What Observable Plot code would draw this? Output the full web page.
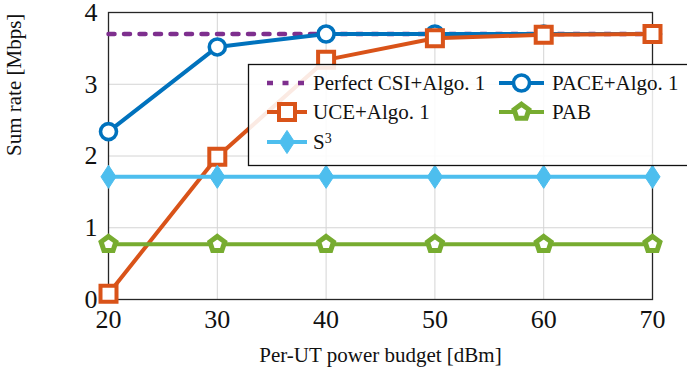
<!DOCTYPE html>
<html>
<head>
<meta charset="utf-8">
<script src="https://cdn.jsdelivr.net/npm/d3@7"></script>
<script src="https://cdn.jsdelivr.net/npm/@observablehq/plot@0.6"></script>
<style>
  html, body { margin: 0; padding: 0; background: #fff; }
  #chart { width: 687px; height: 372px; overflow: hidden; }
  #chart svg, #chart svg text { font-family: "Liberation Serif", "DejaVu Serif", serif !important; }
</style>
</head>
<body>
<div id="chart"></div>
<script>
// Per-UT power budget (dBm) on the x axis
const powerBudget = [20, 30, 40, 50, 60, 70];

// Sum rate (Mbps) for each scheme
const perfectCSI = [3.70, 3.70, 3.70, 3.70, 3.70, 3.70];
const paceAlgo1  = [2.34, 3.52, 3.70, 3.70, 3.70, 3.70];
const uceAlgo1   = [0.08, 1.99, 3.34, 3.64, 3.69, 3.70];
const s3Rate     = [1.71, 1.71, 1.71, 1.71, 1.71, 1.71];
const pabRate    = [0.77, 0.77, 0.77, 0.77, 0.77, 0.77];

const xTicks = [20, 30, 40, 50, 60, 70];
const yTicks = [0, 1, 2, 3, 4];

const xLabel = "Per-UT power budget [dBm]";
const yLabel = "Sum rate [Mbps]";

const serif = "'Liberation Serif', 'DejaVu Serif', serif";

const colors = {
  perfect: "#7E2F8E",
  pace: "#0072BD",
  uce: "#D95319",
  s3: "#4DBEEE",
  pab: "#77AC30"
};

// Marker shapes; r is recovered from the area Plot passes in
const rOf = size => Math.sqrt(size / Math.PI);
const circleSym = {draw(ctx, size) { const r = rOf(size); ctx.moveTo(r, 0); ctx.arc(0, 0, r, 0, 2 * Math.PI); ctx.closePath(); }};
const squareSym = {draw(ctx, size) { const r = rOf(size); ctx.moveTo(-r, -r); ctx.lineTo(r, -r); ctx.lineTo(r, r); ctx.lineTo(-r, r); ctx.closePath(); }};
const diamondSym = {draw(ctx, size) { const r = rOf(size); const w = r * 0.72, h = r * 1.1; ctx.moveTo(0, -h); ctx.lineTo(w, 0); ctx.lineTo(0, h); ctx.lineTo(-w, 0); ctx.closePath(); }};
const pentagonSym = {draw(ctx, size) {
  const r = rOf(size);
  for (let i = 0; i < 5; i++) {
    const a = -Math.PI / 2 + i * 2 * Math.PI / 5;
    const px = r * Math.cos(a), py = r * Math.sin(a);
    if (i === 0) ctx.moveTo(px, py); else ctx.lineTo(px, py);
  }
  ctx.closePath();
}};

const series = [
  {key: "perfect", name: "Perfect CSI+Algo. 1", values: perfectCSI, color: colors.perfect, dash: "6,9.5", symbol: null},
  {key: "pace", name: "PACE+Algo. 1", values: paceAlgo1, color: colors.pace, symbol: circleSym, r: 8, fill: "white", sw: 3.6},
  {key: "uce", name: "UCE+Algo. 1", values: uceAlgo1, color: colors.uce, symbol: squareSym, r: 8, fill: "white", sw: 4},
  {key: "pab", name: "PAB", values: pabRate, color: colors.pab, symbol: pentagonSym, r: 7.8, fill: "white", sw: 5},
  {key: "s3", name: "S\u00B3", values: s3Rate, color: colors.s3, symbol: diamondSym, r: 10.5, fill: colors.s3, sw: 1}
];

const rows = series.flatMap(s => s.values.map((v, i) => ({key: s.key, x: powerBudget[i], y: v})));

const marks = [
  Plot.gridX(xTicks, {stroke: "#d4d4d4", strokeOpacity: 1, strokeWidth: 1}),
  Plot.gridY(yTicks, {stroke: "#d4d4d4", strokeOpacity: 1, strokeWidth: 1}),
  Plot.axisX(xTicks, {tickSize: 0, tickPadding: 10, fontSize: 26, fontFamily: serif, fill: "#111", label: null, tickFormat: d => String(d)}),
  Plot.axisY(yTicks, {tickSize: 0, tickPadding: 11, fontSize: 26, fontFamily: serif, fill: "#111", label: null, tickFormat: d => String(d)}),
  Plot.frame({stroke: "#262626", strokeWidth: 1.3})
];

for (const s of series) {
  const data = rows.filter(d => d.key === s.key);
  marks.push(Plot.line(data, {x: "x", y: "y", stroke: s.color, strokeWidth: s.dash ? 4.5 : 4, strokeDasharray: s.dash}));
  if (s.symbol) {
    marks.push(Plot.dot(data, {x: "x", y: "y", symbol: () => s.symbol, r: s.r, stroke: s.color, fill: s.fill, strokeWidth: s.sw}));
  }
}

marks.push(
  Plot.text([xLabel], {frameAnchor: "bottom", dy: 62, fontSize: 21, fontFamily: serif, fill: "#111"}),
  Plot.text([yLabel], {frameAnchor: "left", dx: -94, rotate: -90, fontSize: 21, fontFamily: serif, fill: "#111"})
);

const chart = Plot.plot({
  width: 687,
  height: 372,
  marginLeft: 108,
  marginRight: 35,
  marginTop: 12,
  marginBottom: 73,
  x: {domain: [20, 70]},
  y: {domain: [0, 4]},
  style: {fontFamily: serif, background: "white", color: "#111", overflow: "visible"},
  marks
});

document.getElementById("chart").appendChild(chart);

// Legend box, two columns, row-major order
const svg = d3.select(chart);
const lg = svg.append("g")
  .attr("font-family", serif)
  .attr("font-size", 21)
  .attr("text-anchor", "start");
lg.append("rect")
  .attr("x", 248.5).attr("y", 64.5).attr("width", 460).attr("height", 101)
  .attr("fill", "white").attr("fill-opacity", 0.88)
  .attr("stroke", "#111").attr("stroke-width", 1.3);

const legendOrder = ["perfect", "pace", "uce", "pab", "s3"];
const colX = [[267, 307, 313], [499, 544, 552]];
const rowY = [83, 112, 142];
legendOrder.forEach((key, i) => {
  const s = series.find(d => d.key === key);
  const [x0, x1, tx] = colX[i % 2];
  const y = rowY[Math.floor(i / 2)];
  lg.append("line").attr("x1", x0).attr("x2", x1).attr("y1", y).attr("y2", y)
    .attr("stroke", s.color).attr("stroke-width", s.dash ? 4.5 : 4).attr("stroke-dasharray", s.dash || null);
  if (s.symbol) {
    const p = d3.path();
    s.symbol.draw(p, Math.PI * s.r * s.r);
    lg.append("path").attr("d", p.toString()).attr("transform", `translate(${(x0 + x1) / 2},${y})`)
      .attr("fill", s.fill).attr("stroke", s.color).attr("stroke-width", s.sw);
  }
  const t = lg.append("text").attr("x", tx).attr("y", y).attr("dy", "0.35em").attr("fill", "#111");
  if (key === "s3") {
    t.append("tspan").text("S");
    t.append("tspan").attr("dy", "-0.45em").attr("font-size", 14).text("3");
  } else {
    t.text(s.name);
  }
});
</script>
</body>
</html>
